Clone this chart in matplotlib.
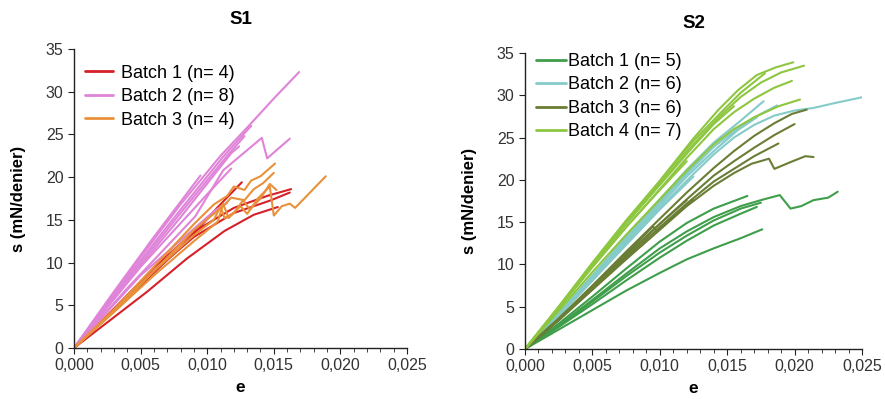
import matplotlib
matplotlib.use("Agg")
import matplotlib.pyplot as plt
from matplotlib.ticker import MultipleLocator, FuncFormatter

plt.rcParams['font.family'] = ['Liberation Sans', 'DejaVu Sans']

# ---------------- S1 data (strain e, stress s) ----------------
s1_labels = ["Batch 1 (n= 4)", "Batch 2 (n= 8)", "Batch 3 (n= 4)"]
s1_colors = ["#d6202a", "#df84d8", "#e8913a"]

# Batch 1 (red)
s1_b1_c1 = [(0, 0), (0.004, 5.8), (0.0088, 13.0), (0.0108, 16.5), (0.0126, 19.4)]
s1_b1_c2 = [(0, 0), (0.003, 4.6), (0.006, 9.4), (0.009, 13.6), (0.012, 16.4), (0.0145, 17.8), (0.0163, 18.6)]
s1_b1_c3 = [(0, 0), (0.0025, 3.0), (0.0055, 6.6), (0.0085, 10.5), (0.0113, 13.7), (0.0135, 15.6), (0.0153, 16.5)]
s1_b1_c4 = [(0, 0), (0.003, 4.4), (0.006, 9.0), (0.009, 13.0), (0.012, 15.8), (0.0148, 17.3), (0.0162, 18.2)]

# Batch 2 (pink)
s1_b2_c1 = [(0, 0), (0.004, 8.6), (0.008, 16.8), (0.011, 22.5), (0.013, 25.8), (0.015, 29.2), (0.0169, 32.3)]
s1_b2_c2 = [(0, 0), (0.003, 6.6), (0.006, 13.0), (0.0095, 20.2)]
s1_b2_c3 = [(0, 0), (0.004, 8.3), (0.008, 16.2), (0.0112, 22.4), (0.0133, 26.0)]
s1_b2_c4 = [(0, 0), (0.004, 8.0), (0.008, 15.8), (0.0115, 22.5), (0.0128, 24.8)]
s1_b2_c5 = [(0, 0), (0.004, 7.8), (0.008, 15.3), (0.0118, 22.8), (0.0124, 23.6)]
s1_b2_c6 = [(0, 0), (0.004, 7.0), (0.0091, 15.4), (0.0112, 20.8), (0.0141, 24.6), (0.0145, 22.2), (0.0162, 24.5)]
s1_b2_c7 = [(0, 0), (0.005, 8.5), (0.0105, 16.0), (0.0115, 17.0)]
s1_b2_c8 = [(0, 0), (0.005, 9.5), (0.010, 18.0), (0.0118, 21.0)]

# Batch 3 (orange)
s1_b3_c1 = [(0, 0), (0.003, 4.5), (0.006, 9.5), (0.009, 14.5), (0.0105, 16.8), (0.0115, 17.8), (0.012, 18.9),
            (0.0128, 18.5), (0.0133, 19.6), (0.014, 20.1), (0.0151, 21.6)]
s1_b3_c2 = [(0, 0), (0.003, 4.3), (0.006, 9.0), (0.009, 13.8), (0.0112, 16.6), (0.0118, 17.6), (0.0128, 17.3),
            (0.0135, 18.6), (0.0142, 19.3), (0.015, 20.5)]
s1_b3_c3 = [(0, 0), (0.003, 4.2), (0.006, 8.5), (0.009, 12.5), (0.0108, 14.8), (0.0112, 16.9), (0.0116, 15.2),
            (0.0125, 16.6), (0.013, 15.7), (0.0138, 17.5), (0.0147, 18.9), (0.0150, 15.5), (0.0156, 16.6),
            (0.0162, 16.9), (0.0166, 16.4), (0.0189, 20.1)]
s1_b3_c4 = [(0, 0), (0.003, 4.4), (0.006, 9.0), (0.009, 13.2), (0.0105, 15.0), (0.011, 16.6), (0.0113, 15.2),
            (0.012, 15.8), (0.0127, 17.3), (0.0132, 16.2), (0.014, 17.5), (0.0147, 19.2), (0.0152, 18.5)]

s1_batches = [
    [s1_b1_c1, s1_b1_c2, s1_b1_c3, s1_b1_c4],
    [s1_b2_c1, s1_b2_c2, s1_b2_c3, s1_b2_c4, s1_b2_c5, s1_b2_c6, s1_b2_c7, s1_b2_c8],
    [s1_b3_c1, s1_b3_c2, s1_b3_c3, s1_b3_c4],
]

# ---------------- S2 data ----------------
s2_labels = ["Batch 1 (n= 5)", "Batch 2 (n= 6)", "Batch 3 (n= 6)", "Batch 4 (n= 7)"]
s2_colors = ["#3f9e4a", "#84cbca", "#6a7d34", "#8dc63f"]

# Batch 1 (green)
s2_b1_c1 = [(0, 0), (0.0025, 3.0), (0.005, 6.2), (0.0075, 9.5), (0.010, 12.7), (0.012, 14.9), (0.014, 16.6),
            (0.0165, 18.1)]
s2_b1_c2 = [(0, 0), (0.0025, 2.8), (0.005, 5.8), (0.0075, 8.9), (0.010, 11.9), (0.012, 13.9), (0.014, 15.6),
            (0.016, 16.9), (0.0175, 17.6), (0.0189, 18.2), (0.0197, 16.6), (0.0205, 16.9), (0.0214, 17.6),
            (0.0225, 17.9), (0.0232, 18.6)]
s2_b1_c3 = [(0, 0), (0.0025, 2.7), (0.005, 5.6), (0.0075, 8.6), (0.010, 11.4), (0.012, 13.4), (0.014, 15.2),
            (0.016, 16.6), (0.0175, 17.3)]
s2_b1_c4 = [(0, 0), (0.0025, 2.6), (0.005, 5.3), (0.0075, 8.1), (0.010, 10.8), (0.012, 12.8), (0.014, 14.6),
            (0.016, 16.0), (0.0172, 16.8)]
s2_b1_c5 = [(0, 0), (0.0025, 2.3), (0.005, 4.6), (0.0075, 6.9), (0.010, 9.0), (0.012, 10.6), (0.014, 11.9),
            (0.016, 13.1), (0.0176, 14.15)]

# Batch 2 (light blue)
s2_b2_c1 = [(0, 0), (0.0025, 3.9), (0.005, 8.1), (0.0075, 12.5), (0.010, 16.7), (0.0125, 20.7), (0.014, 23.0),
            (0.0155, 25.0), (0.017, 26.5), (0.0185, 27.6), (0.020, 28.2), (0.0214, 28.5), (0.0229, 29.05),
            (0.0251, 29.8)]
s2_b2_c2 = [(0, 0), (0.0025, 4.2), (0.005, 8.7), (0.0075, 13.2), (0.010, 17.7), (0.012, 21.2), (0.014, 24.4),
            (0.016, 27.0), (0.0177, 29.3)]
s2_b2_c3 = [(0, 0), (0.0025, 4.1), (0.005, 8.5), (0.0075, 13.0), (0.010, 17.3), (0.012, 20.7), (0.014, 23.9),
            (0.016, 26.3), (0.0175, 27.8), (0.0187, 28.8)]
s2_b2_c4 = [(0, 0), (0.0025, 4.0), (0.005, 8.3), (0.0075, 12.7), (0.010, 17.0), (0.012, 20.4), (0.014, 23.4),
            (0.0158, 25.9), (0.0172, 27.4)]
s2_b2_c5 = [(0, 0), (0.0025, 4.1), (0.005, 8.6), (0.0075, 13.1), (0.010, 17.5), (0.0115, 20.1), (0.013, 22.6)]
s2_b2_c6 = [(0, 0), (0.0025, 3.9), (0.005, 8.1), (0.0075, 12.3), (0.010, 16.5), (0.0125, 20.4)]

# Batch 3 (olive)
s2_b3_c1 = [(0, 0), (0.0025, 3.6), (0.005, 7.5), (0.0075, 11.5), (0.010, 15.4), (0.012, 18.5), (0.014, 21.4),
            (0.0155, 23.4), (0.017, 25.2), (0.0185, 26.7), (0.0198, 27.8), (0.0209, 28.3)]
s2_b3_c2 = [(0, 0), (0.0025, 3.5), (0.005, 7.3), (0.0075, 11.1), (0.010, 14.8), (0.012, 17.7), (0.014, 20.5),
            (0.0155, 22.2), (0.017, 23.8), (0.0185, 25.3), (0.020, 26.6)]
s2_b3_c3 = [(0, 0), (0.0025, 3.4), (0.005, 7.1), (0.0075, 10.8), (0.010, 14.4), (0.012, 17.2), (0.014, 19.8),
            (0.0155, 21.3), (0.017, 22.8), (0.0188, 24.3)]
s2_b3_c4 = [(0, 0), (0.0025, 3.4), (0.005, 7.0), (0.0075, 10.6), (0.010, 14.1), (0.012, 16.9), (0.014, 19.3),
            (0.0155, 20.8), (0.0168, 21.9), (0.0181, 22.5), (0.0185, 21.3), (0.0197, 22.1), (0.0208, 22.8),
            (0.0214, 22.7)]
s2_b3_c5 = [(0, 0), (0.0025, 3.6), (0.005, 7.4), (0.0075, 11.3), (0.0095, 14.5), (0.0098, 13.9), (0.0115, 16.3),
            (0.0125, 17.6)]
s2_b3_c6 = [(0, 0), (0.0025, 3.5), (0.005, 7.2), (0.0075, 11.0), (0.010, 14.8), (0.012, 17.6)]

# Batch 4 (light green)
s2_b4_c1 = [(0, 0), (0.0025, 5.0), (0.005, 10.2), (0.0075, 15.2), (0.010, 19.9), (0.0125, 24.9), (0.0143, 28.2),
            (0.0158, 30.6), (0.0172, 32.4), (0.0186, 33.3), (0.0199, 33.9)]
s2_b4_c2 = [(0, 0), (0.0025, 4.9), (0.005, 10.0), (0.0075, 14.9), (0.010, 19.5), (0.0125, 24.2), (0.0145, 27.6),
            (0.016, 29.8), (0.0175, 31.5), (0.019, 32.7), (0.0207, 33.5)]
s2_b4_c3 = [(0, 0), (0.0025, 4.8), (0.005, 9.7), (0.0075, 14.4), (0.010, 18.9), (0.012, 22.6), (0.014, 26.0),
            (0.0155, 28.0), (0.017, 29.6), (0.0185, 30.9), (0.0198, 31.7)]
s2_b4_c4 = [(0, 0), (0.0025, 4.5), (0.005, 9.1), (0.0075, 13.5), (0.010, 17.7), (0.012, 21.1), (0.014, 24.2),
            (0.0155, 26.0), (0.017, 27.4), (0.0188, 28.7), (0.0204, 29.5)]
s2_b4_c5 = [(0, 0), (0.0025, 5.0), (0.005, 10.1), (0.0075, 15.0), (0.010, 19.8), (0.0125, 24.6), (0.0145, 27.9),
            (0.016, 30.3), (0.0178, 32.6)]
s2_b4_c6 = [(0, 0), (0.0025, 4.9), (0.005, 9.9), (0.0075, 14.8), (0.010, 19.4), (0.0125, 24.0), (0.014, 26.6),
            (0.0155, 28.7)]
s2_b4_c7 = [(0, 0), (0.0025, 4.8), (0.005, 9.7), (0.0075, 14.4), (0.010, 18.8), (0.012, 22.2)]

s2_batches = [
    [s2_b1_c1, s2_b1_c2, s2_b1_c3, s2_b1_c4, s2_b1_c5],
    [s2_b2_c1, s2_b2_c2, s2_b2_c3, s2_b2_c4, s2_b2_c5, s2_b2_c6],
    [s2_b3_c1, s2_b3_c2, s2_b3_c3, s2_b3_c4, s2_b3_c5, s2_b3_c6],
    [s2_b4_c1, s2_b4_c2, s2_b4_c3, s2_b4_c4, s2_b4_c5, s2_b4_c6, s2_b4_c7],
]

x_ticks = [0.000, 0.005, 0.010, 0.015, 0.020, 0.025]
y_ticks = [0, 5, 10, 15, 20, 25, 30, 35]

fig = plt.figure(figsize=(8.85, 3.99), dpi=100)
ax1 = fig.add_axes([74 / 885, 1 - 348 / 399, 333 / 885, 299 / 399])
ax2 = fig.add_axes([525 / 885, 1 - 349 / 399, 337 / 885, 296 / 399])


def style(ax, title):
    ax.set_xlim(0, 0.025)
    ax.set_ylim(0, 35)
    ax.set_xticks(x_ticks)
    ax.set_yticks(y_ticks)
    ax.xaxis.set_minor_locator(MultipleLocator(0.001))
    ax.xaxis.set_major_formatter(FuncFormatter(lambda v, p: f"{v:.3f}".replace(".", ",")))
    for s in ("top", "right"):
        ax.spines[s].set_visible(False)
    for s in ("left", "bottom"):
        ax.spines[s].set_linewidth(1.0)
        ax.spines[s].set_color("#222222")
    ax.tick_params(axis="both", which="major", direction="out", length=4, labelsize=11.5,
                   colors="#222222", labelcolor="#333333")
    ax.tick_params(axis="x", which="minor", direction="out", length=3, color="#222222")
    ax.set_title(title, fontsize=13.5, fontweight="bold", pad=18)
    ax.set_xlabel("e", fontsize=12.5, fontweight="bold", labelpad=5)
    ax.set_ylabel("s (mN/denier)", fontsize=12, fontweight="bold", labelpad=14)


def draw(ax, batches, colors, labels):
    handles = []
    for curves, col, lab in zip(batches, colors, labels):
        h = None
        for c in curves:
            xs = [p[0] for p in c]
            ys = [p[1] for p in c]
            (ln,) = ax.plot(xs, ys, color=col, lw=1.5, solid_joinstyle="round", solid_capstyle="round")
            if h is None:
                h = ln
        handles.append(h)
    return handles


h1 = draw(ax1, s1_batches, s1_colors, s1_labels)
style(ax1, "S1")
leg1 = ax1.legend(h1, s1_labels, loc="upper left", bbox_to_anchor=(0.012, 0.972), frameon=False, fontsize=13,
                  handlelength=1.55, handletextpad=0.45, labelspacing=0.36, borderaxespad=0.0)
for ln in leg1.get_lines():
    ln.set_linewidth(2.0)

h2 = draw(ax2, s2_batches, s2_colors, s2_labels)
style(ax2, "S2")
leg2 = ax2.legend(h2, s2_labels, loc="upper left", bbox_to_anchor=(0.012, 1.025), frameon=False, fontsize=13,
                  handlelength=1.67, handletextpad=0.1, labelspacing=0.36, borderaxespad=0.0)
for ln in leg2.get_lines():
    ln.set_linewidth(2.0)

fig.savefig("out.png", dpi=100)
